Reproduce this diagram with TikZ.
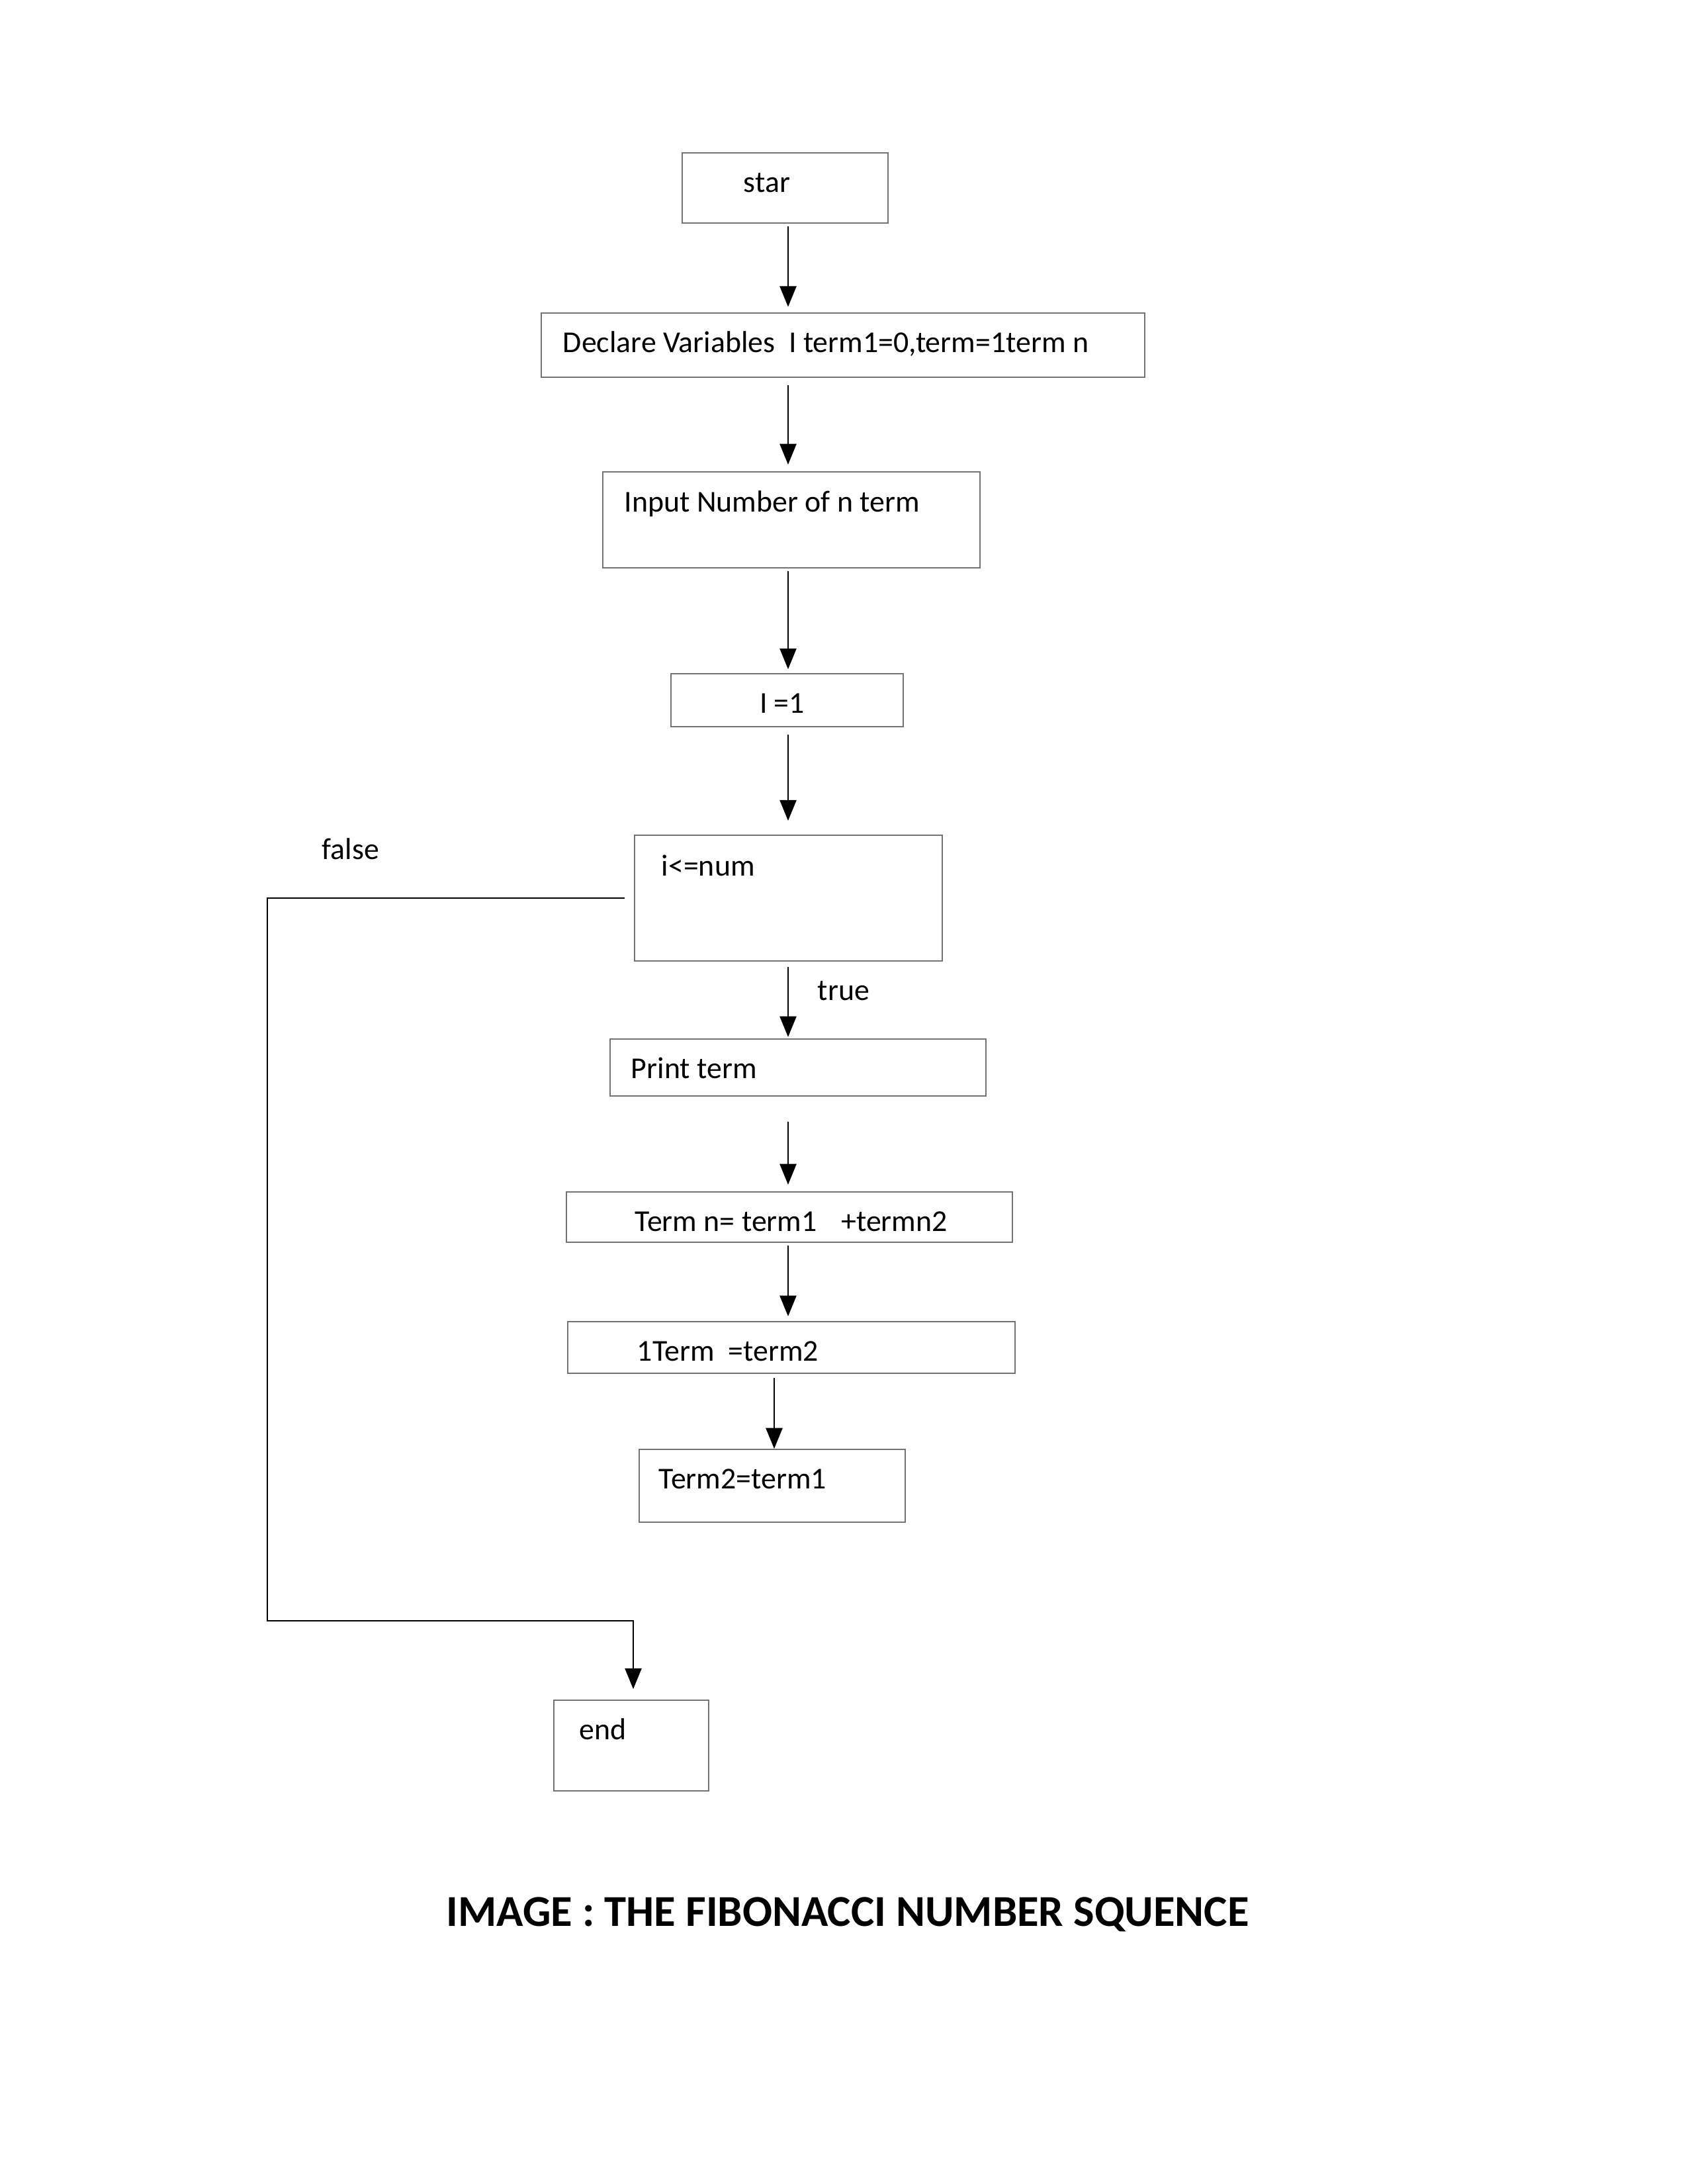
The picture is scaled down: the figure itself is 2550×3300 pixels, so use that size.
\documentclass[tikz,border=0pt]{standalone}
\usepackage{fontspec}
\setmainfont{Carlito}
\usetikzlibrary{arrows.meta}
\begin{document}
\begin{tikzpicture}[x=0.24pt,y=-0.24pt,
  box/.style={draw=black!55,line width=0.5pt,inner sep=0pt,minimum width=#1},
  lbl/.style={anchor=base west,inner sep=0pt,font=\fontsize{11pt}{13pt}\selectfont},
  arr/.style={draw=black,line width=0.6pt,-{Triangle[width=6pt,length=7.5pt]}},
  ln/.style={draw=black,line width=0.6pt}]
\useasboundingbox (0,0) rectangle (2550,3300);
% boxes
\node[box=311*0.24pt,minimum height=106*0.24pt] (star) at (1186.5,284) {};
\node[box=912*0.24pt,minimum height=97*0.24pt] (decl) at (1274,521.5) {};
\node[box=570*0.24pt,minimum height=145*0.24pt] (input) at (1196,785.5) {};
\node[box=351*0.24pt,minimum height=80*0.24pt] (ione) at (1189.5,1058) {};
\node[box=465*0.24pt,minimum height=190*0.24pt] (cond) at (1191.5,1357) {};
\node[box=568*0.24pt,minimum height=86*0.24pt] (print) at (1206,1613) {};
\node[box=674*0.24pt,minimum height=76*0.24pt] (termn) at (1193,1839) {};
\node[box=676*0.24pt,minimum height=78*0.24pt] (oneterm) at (1196,2036) {};
\node[box=402*0.24pt,minimum height=110*0.24pt] (termtwo) at (1167,2245) {};
\node[box=234*0.24pt,minimum height=137*0.24pt] (endb) at (954,2637.5) {};
% texts
\node[lbl,anchor=base] (tstar) at (1159,290) {star};
\node[lbl] (tdecl) at (850,532) {Declare Variables\ \ I term1=0,term=1term n};
\node[lbl] (tinput) at (943,773) {Input Number of n term};
\node[lbl,anchor=base] (tione) at (1182,1077) {I =1};
\node[lbl] (tcond) at (999,1323) {i<=num};
\node[lbl] (tfalse) at (486,1298) {false};
\node[lbl] (ttrue) at (1235,1511) {true};
\node[lbl] (tprint) at (953,1629) {Print term};
\node[lbl] (ttermn) at (959,1860) {Term n= term1\hspace{0.8em}+termn2};
\node[lbl] (toneterm) at (962,2056) {1Term\ \ =term2};
\node[lbl] (ttermtwo) at (995,2249) {Term2=term1};
\node[lbl] (tend) at (875,2628) {end};
\node[anchor=base,inner sep=0pt,font=\fontsize{16pt}{18pt}\selectfont\bfseries] (caption) at (1281,2910) {IMAGE : THE FIBONACCI NUMBER SQUENCE};
% connector columns
\coordinate (ax) at (1191,0);
\coordinate (bx) at (1170,0);
\coordinate (ex) at (957,0);
\coordinate (fl) at (404,2449);
% arrows
\draw[arr,shorten <=1pt,shorten >=2pt] (star.south -| ax) -- (decl.north -| ax);
\draw[arr,shorten <=2.6pt,shorten >=2.4pt] (decl.south -| ax) -- (input.north -| ax);
\draw[arr,shorten <=1pt,shorten >=1.4pt] (input.south -| ax) -- (ione.north -| ax);
\draw[arr,shorten <=2.6pt,shorten >=5pt] (ione.south -| ax) -- (cond.north -| ax);
\draw[arr,shorten <=1.9pt,shorten >=0.5pt] (cond.south -| ax) -- (print.north -| ax);
\draw[arr,shorten <=9pt,shorten >=2.4pt] (print.south -| ax) -- (termn.north -| ax);
\draw[arr,shorten <=1pt,shorten >=1.7pt] (termn.south -| ax) -- (oneterm.north -| ax);
\draw[arr,shorten <=1.4pt,shorten >=0pt] (oneterm.south -| bx) -- (termtwo.north -| bx);
\draw[arr,shorten <=3.4pt,shorten >=3.8pt] (cond.west) -- (cond.west -| fl) -- (fl) -- (fl -| ex) -- (endb.north -| ex);
\end{tikzpicture}
\end{document}
